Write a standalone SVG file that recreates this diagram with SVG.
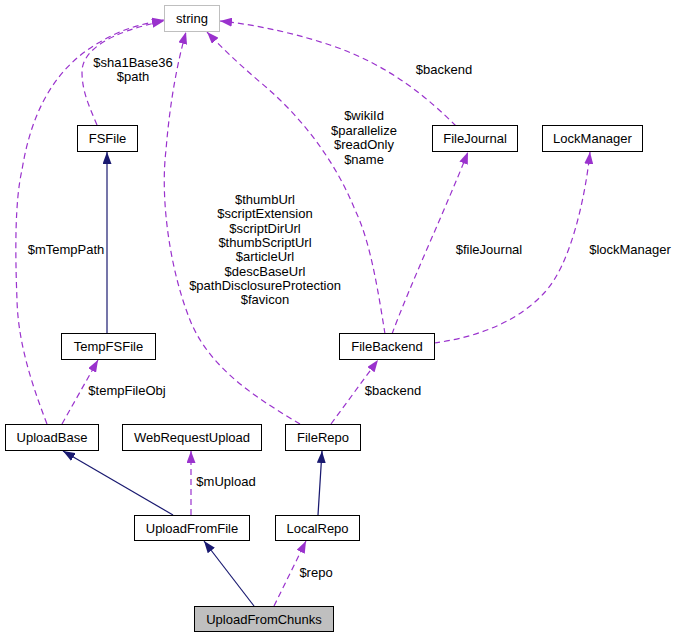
<svg xmlns="http://www.w3.org/2000/svg" width="676" height="637" viewBox="0 0 676 637">
<defs>
<style>
text{font-family:"Liberation Sans",Arial,sans-serif;font-size:13px;fill:#000;}
.n text{text-anchor:middle;}
.box{fill:#fff;stroke:#000;stroke-width:1;}
.lbl{text-anchor:middle;}
.inh{fill:none;stroke:#191970;stroke-width:1.2;}
.use{fill:none;stroke:#9a32cd;stroke-width:1.2;stroke-dasharray:6,4;}
</style>
<marker id="an" viewBox="0 0 12 9" refX="12" refY="4.5" markerWidth="12" markerHeight="9" markerUnits="userSpaceOnUse" orient="auto">
<path d="M0,0 L12,4.5 L0,9 z" fill="#191970"/>
</marker>
<marker id="ap" viewBox="0 0 12 9" refX="12" refY="4.5" markerWidth="12" markerHeight="9" markerUnits="userSpaceOnUse" orient="auto">
<path d="M0,0 L12,4.5 L0,9 z" fill="#9a32cd"/>
</marker>
</defs>
<rect width="676" height="637" fill="#fff"/>
<g id="connectors">
<path class="inh" marker-end="url(#an)" d="M107,333 L107,152"/>
<path class="inh" marker-end="url(#an)" d="M173,515 L63,451"/>
<path class="inh" marker-end="url(#an)" d="M318,515 L322,451"/>
<path class="inh" marker-end="url(#an)" d="M254,606 L204,541"/>
<path class="use" marker-end="url(#ap)" d="M97,125 C90,108 82,92 82,72 C82,50 110,32 164,21"/>
<path class="use" marker-end="url(#ap)" d="M47,424 C30,380 18,340 17,300 C15,250 15,200 22,170 C30,120 50,70 100,42 C120,30 140,24 164,20"/>
<path class="use" marker-end="url(#ap)" d="M300,424 C260,400 210,370 190,320 C170,270 160,200 166,150 C170,100 178,60 186,32"/>
<path class="use" marker-end="url(#ap)" d="M385,334 C378,290 370,240 355,210 C335,160 300,115 260,82 C240,65 222,48 207,32"/>
<path class="use" marker-end="url(#ap)" d="M456,126 C430,100 390,65 330,45 C300,35 260,25 220,21"/>
<path class="use" marker-end="url(#ap)" d="M392,334 C410,285 445,210 468,152"/>
<path class="use" marker-end="url(#ap)" d="M434,343 C480,337 520,320 545,292 C570,265 585,200 590,152"/>
<path class="use" marker-end="url(#ap)" d="M62,424 L98,360"/>
<path class="use" marker-end="url(#ap)" d="M331,424 L378,360"/>
<path class="use" marker-end="url(#ap)" d="M191,515 L191,451"/>
<path class="use" marker-end="url(#ap)" d="M274,606 L306,541"/>
<text class="lbl" x="133" y="67">$sha1Base36</text>
<text class="lbl" x="133" y="81">$path</text>
<text class="lbl" x="444" y="74">$backend</text>
<text class="lbl" x="364" y="120">$wikiId</text>
<text class="lbl" x="364" y="134.5">$parallelize</text>
<text class="lbl" x="364" y="149">$readOnly</text>
<text class="lbl" x="364" y="163.5">$name</text>
<text class="lbl" x="265" y="204">$thumbUrl</text>
<text class="lbl" x="265" y="218.3">$scriptExtension</text>
<text class="lbl" x="265" y="232.6">$scriptDirUrl</text>
<text class="lbl" x="265" y="246.9">$thumbScriptUrl</text>
<text class="lbl" x="265" y="261.2">$articleUrl</text>
<text class="lbl" x="265" y="275.5">$descBaseUrl</text>
<text class="lbl" x="265" y="289.8">$pathDisclosureProtection</text>
<text class="lbl" x="265" y="304.1">$favicon</text>
<text class="lbl" x="66" y="254">$mTempPath</text>
<text class="lbl" x="489" y="254">$fileJournal</text>
<text class="lbl" x="630" y="254">$lockManager</text>
<text class="lbl" x="127" y="395">$tempFileObj</text>
<text class="lbl" x="393" y="395">$backend</text>
<text class="lbl" x="226" y="486">$mUpload</text>
<text class="lbl" x="316" y="577">$repo</text>
</g>
<g id="string" class="n"><rect x="164.5" y="5.5" width="55" height="26" fill="#fff" stroke="#bfbfbf"/><text x="192" y="23">string</text></g>
<g id="FSFile" class="n"><rect class="box" x="77.5" y="125.5" width="60" height="26"/><text x="107.5" y="143">FSFile</text></g>
<g id="FileJournal" class="n"><rect class="box" x="432.5" y="125.5" width="85" height="26"/><text x="475" y="143">FileJournal</text></g>
<g id="LockManager" class="n"><rect class="box" x="542.5" y="125.5" width="100" height="26"/><text x="592.5" y="143">LockManager</text></g>
<g id="TempFSFile" class="n"><rect class="box" x="61.5" y="333.5" width="94" height="26"/><text x="108.5" y="351">TempFSFile</text></g>
<g id="FileBackend" class="n"><rect class="box" x="339.5" y="333.5" width="95" height="26"/><text x="387" y="351">FileBackend</text></g>
<g id="UploadBase" class="n"><rect class="box" x="5.5" y="424.5" width="93" height="26"/><text x="52" y="442">UploadBase</text></g>
<g id="WebRequestUpload" class="n"><rect class="box" x="122.5" y="424.5" width="139" height="26"/><text x="192" y="442">WebRequestUpload</text></g>
<g id="FileRepo" class="n"><rect class="box" x="285.5" y="424.5" width="75" height="26"/><text x="323" y="442">FileRepo</text></g>
<g id="UploadFromFile" class="n"><rect class="box" x="134.5" y="515.5" width="115" height="25"/><text x="192" y="532.5">UploadFromFile</text></g>
<g id="LocalRepo" class="n"><rect class="box" x="275.5" y="515.5" width="84" height="25"/><text x="317.5" y="532.5">LocalRepo</text></g>
<g id="UploadFromChunks" class="n"><rect x="194.5" y="606.5" width="139" height="25" fill="#bfbfbf" stroke="#000"/><text x="264" y="623.5">UploadFromChunks</text></g>
</svg>
